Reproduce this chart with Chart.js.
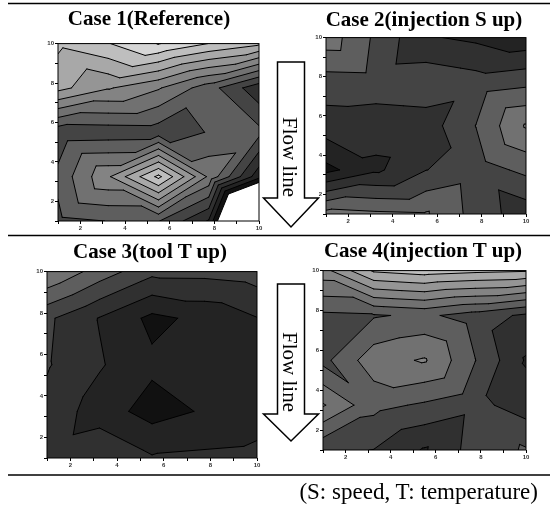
<!DOCTYPE html>
<html>
<head>
<meta charset="utf-8">
<script src="https://cdn.jsdelivr.net/npm/chart.js@4.4.1/dist/chart.umd.min.js"></script>
<style>
  body { margin: 0; background: #fff; }
  #page { position: relative; width: 554px; height: 510px; overflow: hidden; }
  .panel { position: absolute; }
  #overlay { position: absolute; left: 0; top: 0; pointer-events: none; }
  #overlay text { font-family: "Liberation Serif", "Times New Roman", serif; fill: #000; }
</style>
</head>
<body>
<div id="page">
  <div class="panel" style="left:44px;top:39px"><canvas id="case1" width="221" height="194"></canvas></div>
  <div class="panel" style="left:312px;top:33px"><canvas id="case2" width="220" height="193"></canvas></div>
  <div class="panel" style="left:33px;top:267px"><canvas id="case3" width="230" height="203"></canvas></div>
  <div class="panel" style="left:309px;top:266px"><canvas id="case4" width="223" height="196"></canvas></div>

  <svg id="overlay" width="554" height="510">
    <line x1="8" y1="3.5" x2="550" y2="3.5" stroke="#000" stroke-width="1.6"/>
    <line x1="8" y1="235.5" x2="550" y2="235.5" stroke="#000" stroke-width="1.6"/>
    <line x1="8" y1="475" x2="550" y2="475" stroke="#000" stroke-width="1.6"/>

    <text id="t1" x="149" y="25" text-anchor="middle" font-weight="bold" font-size="21"></text>
    <text id="t2" x="424" y="26" text-anchor="middle" font-weight="bold" font-size="21"></text>
    <text id="t3" x="150" y="258" text-anchor="middle" font-weight="bold" font-size="21"></text>
    <text id="t4" x="423" y="257" text-anchor="middle" font-weight="bold" font-size="21"></text>

    <polygon points="277.5,62 304.5,62 304.5,198 318.5,198 291,227 263.5,198 277.5,198"
             fill="#fff" stroke="#000" stroke-width="1.5"/>
    <polygon points="277.5,284 304.5,284 304.5,414 318.5,414 291,441 263.5,414 277.5,414"
             fill="#fff" stroke="#000" stroke-width="1.5"/>
    <text transform="translate(290,157) rotate(90)" text-anchor="middle" dominant-baseline="central" font-size="21">Flow line</text>
    <text transform="translate(290,372) rotate(90)" text-anchor="middle" dominant-baseline="central" font-size="21">Flow line</text>

    <text x="538" y="499" text-anchor="end" font-size="23">(S: speed, T: temperature)</text>
  </svg>
</div>

<script>
// grid of the measured nodes, same for all four cases
const gridX = [1, 3.25, 5.5, 7.75, 10];
const gridY = [1, 3.25, 5.5, 7.75, 10];
const axisLabels = [2, 4, 6, 8, 10];

// contour levels, band k is everything below levels[k]
const levels = [1, 2, 3, 4, 5, 6, 7, 8, 9, 10, 11, 12];
const bandGreys = ['#ffffff', '#111111', '#232323', '#303030', '#444444', '#5e5e5e', '#717171',
                   '#838383', '#959595', '#a8a8a8', '#bebebe', '#d6d6d6', '#ececec'];

const titles = ['Case 1(Reference)', 'Case 2(injection S up)', 'Case 3(tool T up)', 'Case 4(injection T up)'];

// z values, rows from y=10 (top) down to y=1, columns x=1..10
const case1Z = [
  [10.2, 10.95, 12.05, 10.98, 10.2],
  [9.33, 8.1, 7.1, 5.45, 3.3],
  [4.33, 4.4, 4.45, 5.05, 5.3],
  [5.27, 7.85, 11.25, 6.8, 2.35],
  [4.74, 5.02, 5.05, 2.9, -8]
];
const case2Z = [
  [6.58, 4.8, 3.1, 2.8, 2.3],
  [4.54, 4.6, 4.7, 4.4, 4.7],
  [3.53, 3.4, 3.5, 5.02, 7.1],
  [1.7, 2.8, 3.98, 4.5, 5.25],
  [6.4, 6.2, 6.1, 4.62, 3.4]
];
const case3Z = [
  [7.0, 5.55, 4.28, 4.3, 4.5],
  [4.19, 2.95, 1.75, 2.26, 2.97],
  [4.09, 3.1, 2.2, 2.3, 2.4],
  [3.68, 2.5, 1.6, 2.1, 2.5],
  [3.5, 3.9, 3.1, 3.2, 3.3]
];
const case4Z = [
  [7.6, 10.15, 10.5, 10.25, 10.1],
  [4.8, 4.9, 5.2, 4.55, 3.8],
  [4.7, 6.6, 7.1, 5.02, 2.9],
  [7.1, 5.3, 4.85, 4.3, 3.5],
  [4.2, 3.98, 2.9, 4.45, 5.1]
];

function val(z, i, j) {
  return z[gridY.length - 1 - j][i];
}

// split each grid cell in two, alternating the diagonal
function triangles(z) {
  const out = [];
  for (let j = 0; j < gridY.length - 1; j++) {
    for (let i = 0; i < gridX.length - 1; i++) {
      const p = (a, b) => ({ x: gridX[a], y: gridY[b], v: val(z, a, b) });
      const bl = p(i, j), br = p(i + 1, j), tl = p(i, j + 1), tr = p(i + 1, j + 1);
      if ((i + j) % 2 === 0) out.push([bl, br, tr], [bl, tr, tl]);
      else out.push([bl, br, tl], [br, tr, tl]);
    }
  }
  return out;
}

function clip(poly, t, keepAbove) {
  const out = [];
  for (let n = 0; n < poly.length; n++) {
    const a = poly[n], b = poly[(n + 1) % poly.length];
    const ina = keepAbove ? a.v >= t : a.v <= t;
    const inb = keepAbove ? b.v >= t : b.v <= t;
    if (ina) out.push(a);
    if (ina !== inb) {
      const f = (t - a.v) / (b.v - a.v);
      out.push({ x: a.x + f * (b.x - a.x), y: a.y + f * (b.y - a.y), v: t });
    }
  }
  return out;
}

const contourPlugin = {
  id: 'contour',
  beforeDatasetsDraw(chart, args, opts) {
    const { ctx, chartArea: a, scales } = chart;
    const px = p => [scales.x.getPixelForValue(p.x), scales.y.getPixelForValue(p.y)];
    const tris = triangles(opts.z);
    ctx.save();
    ctx.beginPath();
    ctx.rect(a.left, a.top, a.width, a.height);
    ctx.clip();

    // filled bands, painted from low to high, one path per band so no seams show
    bandGreys.forEach((col, k) => {
      const lo = k === 0 ? -Infinity : levels[k - 1];
      ctx.beginPath();
      tris.forEach(t => {
        const poly = clip(t, lo, true);
        if (poly.length < 3) return;
        poly.forEach((p, n) => {
          const [X, Y] = px(p);
          if (n) ctx.lineTo(X, Y); else ctx.moveTo(X, Y);
        });
        ctx.closePath();
      });
      ctx.fillStyle = col;
      ctx.fill('nonzero');
    });

    // contour lines
    ctx.strokeStyle = '#000';
    ctx.lineWidth = 1;
    ctx.lineCap = 'round';
    levels.forEach(t => {
      tris.forEach(tri => {
        const pts = [];
        for (let n = 0; n < 3; n++) {
          const p = tri[n], q = tri[(n + 1) % 3];
          if ((p.v - t) * (q.v - t) < 0) {
            const f = (t - p.v) / (q.v - p.v);
            pts.push({ x: p.x + f * (q.x - p.x), y: p.y + f * (q.y - p.y) });
          }
        }
        if (pts.length !== 2) return;
        const [x1, y1] = px(pts[0]), [x2, y2] = px(pts[1]);
        ctx.beginPath();
        ctx.moveTo(x1, y1);
        ctx.lineTo(x2, y2);
        ctx.stroke();
      });
    });
    ctx.restore();
  },
  afterDraw(chart) {
    const { ctx, chartArea: a } = chart;
    ctx.save();
    ctx.strokeStyle = '#000';
    ctx.lineWidth = 1;
    ctx.strokeRect(a.left, a.top, a.width, a.height);
    ctx.restore();
  }
};

function axis(extra) {
  return Object.assign({
    type: 'linear',
    min: 1,
    max: 10,
    border: { display: false },
    grid: { drawOnChartArea: false, tickLength: 3, color: '#000' },
    ticks: {
      stepSize: 1,
      autoSkip: false,
      maxRotation: 0,
      padding: 1,
      color: '#333',
      font: { size: 6, weight: 'bold', family: 'Arial' },
      callback: v => axisLabels.includes(v) ? v : ''
    }
  }, extra);
}

const nodes = [];
gridY.forEach(y => gridX.forEach(x => nodes.push({ x, y })));

function makeCase(id, z) {
  return new Chart(document.getElementById(id), {
    type: 'scatter',
    data: { datasets: [{ data: nodes, pointRadius: 0 }] },
    options: {
      responsive: false,
      animation: false,
      events: [],
      layout: { padding: { top: 4, right: 6 } },
      plugins: { legend: { display: false }, tooltip: { enabled: false }, contour: { z } },
      scales: {
        x: axis({ afterFit: s => { s.height = 12; } }),
        y: axis({ afterFit: s => { s.width = 14; } })
      }
    },
    plugins: [contourPlugin]
  });
}

makeCase('case1', case1Z);
makeCase('case2', case2Z);
makeCase('case3', case3Z);
makeCase('case4', case4Z);

titles.forEach((t, n) => { document.getElementById('t' + (n + 1)).textContent = t; });
</script>
</body>
</html>
